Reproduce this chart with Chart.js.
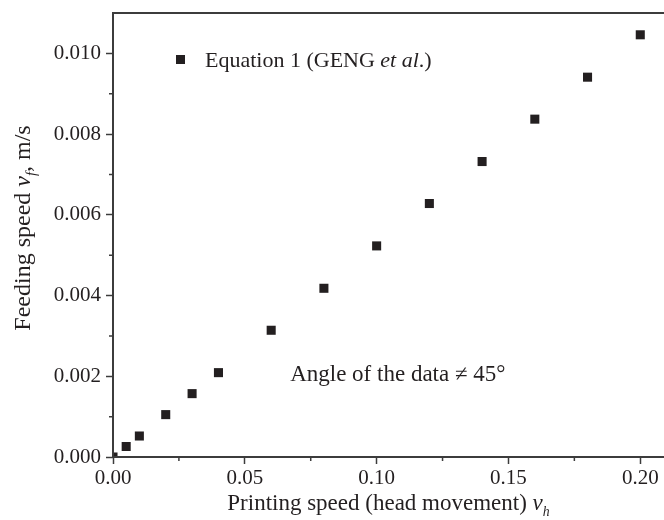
<!DOCTYPE html>
<html>
<head>
<meta charset="utf-8">
<script src="https://cdn.jsdelivr.net/npm/chart.js@4.4.1/dist/chart.umd.min.js"></script>
<style>
  html, body { margin:0; padding:0; background:#fff; }
  #wrap { width:664px; height:520px; }
</style>
</head>
<body>
<div id="wrap"><canvas id="speedChart"></canvas></div>
<script>
/* ===== DATA ===== */
const printSpeed = [0, 0.005, 0.01, 0.02, 0.03, 0.04, 0.06, 0.08, 0.10, 0.12, 0.14, 0.16, 0.18, 0.20];
const feedSpeed  = [0, 0.00026, 0.00052, 0.00105, 0.00157, 0.00209, 0.00314, 0.00418, 0.00523, 0.00628, 0.00732, 0.00837, 0.00941, 0.01046];
const xTicks = [0, 0.05, 0.10, 0.15, 0.20];
const yTicks = [0, 0.002, 0.004, 0.006, 0.008, 0.010];
const seriesName = ["Equation 1 (GENG ", "et al", ".)"];
const noteText = "Angle of the data \u2260 45\u00b0";

const INK = "#231f20";
const AXIS = "#3c3c3c";
const FONT = "'Liberation Serif', 'Times New Roman', serif";
const TXT = 23;

// draw a run of text pieces {t, it, sub}
function drawRun(ctx, parts, x, y, size){
  let cx = x;
  parts.forEach(p=>{
    const s = p.sub ? size*0.6 : size;
    ctx.font = (p.it ? "italic " : "") + s + "px " + FONT;
    ctx.fillText(p.t, cx, y + (p.sub ? size*0.25 : 0));
    cx += ctx.measureText(p.t).width;
  });
  return cx - x;
}
function runWidth(ctx, parts, size){
  let w = 0;
  parts.forEach(p=>{
    const s = p.sub ? size*0.6 : size;
    ctx.font = (p.it ? "italic " : "") + s + "px " + FONT;
    w += ctx.measureText(p.t).width;
  });
  return w;
}

const extras = {
  id:"extras",
  afterDraw(chart){
    const {ctx, chartArea:a, scales:{x, y}} = chart;
    ctx.save();
    // frame: left, bottom, top
    ctx.strokeStyle = AXIS; ctx.lineWidth = 2;
    ctx.beginPath();
    ctx.moveTo(a.right, a.top); ctx.lineTo(a.left, a.top);
    ctx.lineTo(a.left, a.bottom); ctx.lineTo(a.right, a.bottom);
    ctx.stroke();
    // minor ticks
    ctx.lineWidth = 1.5;
    ctx.beginPath();
    for(let v=0.025; v<0.21; v+=0.05){
      const px = x.getPixelForValue(v);
      ctx.moveTo(px, a.bottom); ctx.lineTo(px, a.bottom+4);
    }
    for(let v=0.001; v<0.011; v+=0.002){
      const py = y.getPixelForValue(v);
      ctx.moveTo(a.left, py); ctx.lineTo(a.left-4, py);
    }
    ctx.stroke();

    ctx.fillStyle = INK;
    ctx.textBaseline = "alphabetic";
    // legend
    ctx.fillRect(176, 55, 9, 9);
    drawRun(ctx, [{t:seriesName[0]},{t:seriesName[1],it:true},{t:seriesName[2]}], 205, 67, 22);
    // note
    ctx.font = TXT + "px " + FONT;
    ctx.fillText(noteText, x.getPixelForValue(0.0672), y.getPixelForValue(0.00207)+8);

    // x title
    const xParts = [{t:"Printing speed (head movement) "},{t:"v",it:true},{t:"h",it:true,sub:true}];
    const xw = runWidth(ctx, xParts, TXT);
    drawRun(ctx, xParts, (a.left+a.right)/2 - xw/2, 510, TXT);
    // y title
    const yParts = [{t:"Feeding speed "},{t:"v",it:true},{t:"f",it:true,sub:true},{t:", m/s"}];
    const yw = runWidth(ctx, yParts, 24);
    ctx.translate(30, 228);
    ctx.rotate(-Math.PI/2);
    drawRun(ctx, yParts, -yw/2, 0, 24);
    ctx.restore();
  }
};

new Chart(document.getElementById("speedChart"), {
  type:"scatter",
  data:{
    datasets:[{
      label:seriesName.join(""),
      data:printSpeed.map((v,i)=>({x:v, y:feedSpeed[i]})),
      pointStyle:"rect",
      pointRadius:6.4,
      pointHoverRadius:6.4,
      backgroundColor:INK,
      borderColor:INK,
      borderWidth:0
    }]
  },
  options:{
    responsive:true,
    maintainAspectRatio:false,
    animation:false,
    layout:{autoPadding:false, padding:{top:13, right:0, left:0, bottom:0}},
    plugins:{legend:{display:false}, tooltip:{enabled:false}},
    scales:{
      x:{
        type:"linear", min:0, max:0.209,
        afterBuildTicks:s=>{ s.ticks = xTicks.map(v=>({value:v})); },
        afterFit:s=>{ s.height = 63; s.paddingRight = 0; s.paddingLeft = 0; },
        border:{display:false},
        grid:{drawOnChartArea:false, tickLength:7, tickWidth:1.5, tickColor:AXIS},
        ticks:{color:INK, font:{family:FONT, size:21}, padding:2, maxRotation:0,
               callback:v=>Number(v).toFixed(2)}
      },
      y:{
        type:"linear", min:0, max:0.011,
        afterBuildTicks:s=>{ s.ticks = yTicks.map(v=>({value:v})); },
        afterFit:s=>{ s.width = 113; s.paddingTop = 0; s.paddingBottom = 0; },
        border:{display:false},
        grid:{drawOnChartArea:false, tickLength:7, tickWidth:1.5, tickColor:AXIS},
        ticks:{color:INK, font:{family:FONT, size:21}, padding:5,
               callback:v=>Number(v).toFixed(3)}
      }
    }
  },
  plugins:[extras]
});
</script>
</body>
</html>
